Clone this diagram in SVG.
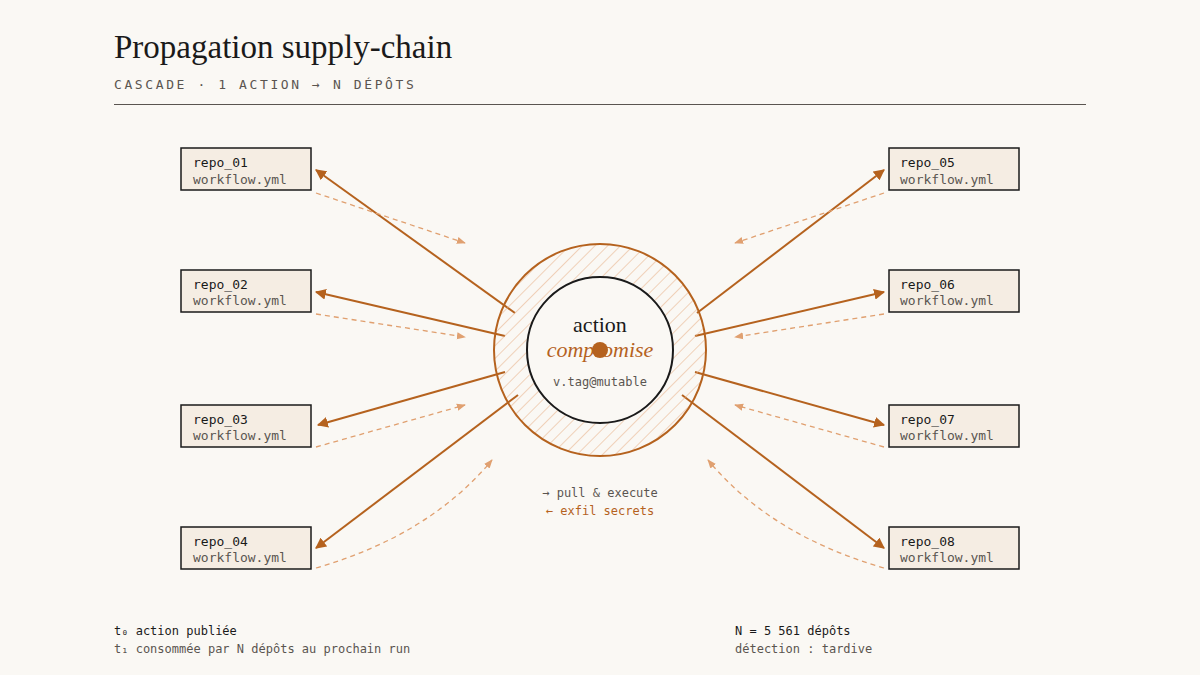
<svg xmlns="http://www.w3.org/2000/svg" width="1200" height="675" viewBox="0 0 1200 675">
<style>
.mono{font-family:"DejaVu Sans Mono","Liberation Mono",monospace}
.box{fill:#f5ede3;stroke:#1a1a1a;stroke-width:1.5}
.n1{font-size:13px;fill:#1a1a1a}
.n2{font-size:13px;fill:#5a5550}
.s{stroke:#b5621e;stroke-width:2;fill:none;marker-end:url(#a)}
.d{stroke:#e0a070;stroke-width:1.3;fill:none;stroke-dasharray:5 4;marker-end:url(#b)}
</style>
<defs>
<marker id="a" viewBox="0 0 10 10" refX="9" refY="5" markerWidth="11" markerHeight="11" markerUnits="userSpaceOnUse" orient="auto"><path d="M0,0L10,5L0,10z" fill="#b5621e"/></marker>
<marker id="b" viewBox="0 0 10 10" refX="9" refY="5" markerWidth="9" markerHeight="9" markerUnits="userSpaceOnUse" orient="auto"><path d="M0,1L10,5L0,9z" fill="#e0a070"/></marker>
<pattern id="h" width="9" height="9" patternUnits="userSpaceOnUse" patternTransform="rotate(45)"><line x1="0" y1="0" x2="0" y2="9" stroke="#e8b088" stroke-width="1.1"/></pattern>
</defs>
<rect width="1200" height="675" fill="#faf8f4"/>
<text x="114" y="58" font-family="'Liberation Serif',serif" font-size="33" fill="#1a1a1a">Propagation supply-chain</text>
<text x="114" y="89" class="mono" font-size="13" letter-spacing="2.6" fill="#5a5550">CASCADE · 1 ACTION → N DÉPÔTS</text>
<line x1="114" y1="104.5" x2="1086" y2="104.5" stroke="#5a5550" stroke-width="1.2"/>
<g id="connectors">
<line class="s" x1="515" y1="313" x2="316" y2="170"/>
<line class="s" x1="505" y1="336" x2="316" y2="292"/>
<line class="s" x1="505" y1="372" x2="318" y2="425"/>
<line class="s" x1="518" y1="395" x2="316" y2="548"/>
<line class="s" x1="697" y1="313" x2="884" y2="170"/>
<line class="s" x1="695" y1="336" x2="884" y2="292"/>
<line class="s" x1="695" y1="372" x2="884" y2="425"/>
<line class="s" x1="682" y1="395" x2="884" y2="548"/>
<line class="d" x1="316" y1="193" x2="465" y2="243"/>
<line class="d" x1="316" y1="314" x2="465" y2="337"/>
<line class="d" x1="316" y1="447" x2="465" y2="405"/>
<path class="d" d="M316,568 Q430,535 492,460"/>
<line class="d" x1="884" y1="193" x2="735" y2="243"/>
<line class="d" x1="884" y1="314" x2="735" y2="337"/>
<line class="d" x1="884" y1="447" x2="735" y2="405"/>
<path class="d" d="M884,568 Q770,535 708,460"/>
</g>
<g id="action">
<circle cx="600" cy="350" r="106" fill="url(#h)" stroke="#b5621e" stroke-width="2"/>
<circle cx="600" cy="350" r="73" fill="#faf8f4" stroke="#1a1a1a" stroke-width="2"/>
<text x="600" y="332" text-anchor="middle" font-family="'Liberation Serif',serif" font-size="22" fill="#1a1a1a">action</text>
<text x="600" y="357" text-anchor="middle" font-family="'Liberation Serif',serif" font-style="italic" font-size="22" fill="#b5621e">compromise</text>
<circle cx="600" cy="350" r="8" fill="#b5621e"/>
<text x="600" y="386" text-anchor="middle" class="mono" font-size="12" fill="#5a5550">v.tag@mutable</text>
</g>
<g id="repo_01"><rect class="box" x="181" y="148" width="130" height="42"/><text class="mono n1" x="193" y="167">repo_01</text><text class="mono n2" x="193" y="184">workflow.yml</text></g>
<g id="repo_02"><rect class="box" x="181" y="270" width="130" height="42"/><text class="mono n1" x="193" y="289">repo_02</text><text class="mono n2" x="193" y="305">workflow.yml</text></g>
<g id="repo_03"><rect class="box" x="181" y="405" width="130" height="42"/><text class="mono n1" x="193" y="424">repo_03</text><text class="mono n2" x="193" y="440">workflow.yml</text></g>
<g id="repo_04"><rect class="box" x="181" y="527" width="130" height="42"/><text class="mono n1" x="193" y="546">repo_04</text><text class="mono n2" x="193" y="562">workflow.yml</text></g>
<g id="repo_05"><rect class="box" x="889" y="148" width="130" height="42"/><text class="mono n1" x="900" y="167">repo_05</text><text class="mono n2" x="900" y="184">workflow.yml</text></g>
<g id="repo_06"><rect class="box" x="889" y="270" width="130" height="42"/><text class="mono n1" x="900" y="289">repo_06</text><text class="mono n2" x="900" y="305">workflow.yml</text></g>
<g id="repo_07"><rect class="box" x="889" y="405" width="130" height="42"/><text class="mono n1" x="900" y="424">repo_07</text><text class="mono n2" x="900" y="440">workflow.yml</text></g>
<g id="repo_08"><rect class="box" x="889" y="527" width="130" height="42"/><text class="mono n1" x="900" y="546">repo_08</text><text class="mono n2" x="900" y="562">workflow.yml</text></g>
<text x="600" y="497" text-anchor="middle" class="mono" font-size="12" fill="#5a5550">→ pull &amp; execute</text>
<text x="600" y="515" text-anchor="middle" class="mono" font-size="12" fill="#b5621e">← exfil secrets</text>
<text x="114" y="635" class="mono" font-size="12" fill="#1a1a1a">t₀ action publiée</text>
<text x="114" y="653" class="mono" font-size="12" fill="#5a5550">t₁ consommée par N dépôts au prochain run</text>
<text x="735" y="635" class="mono" font-size="12" fill="#1a1a1a">N = 5 561 dépôts</text>
<text x="735" y="653" class="mono" font-size="12" fill="#5a5550">détection : tardive</text>
</svg>
